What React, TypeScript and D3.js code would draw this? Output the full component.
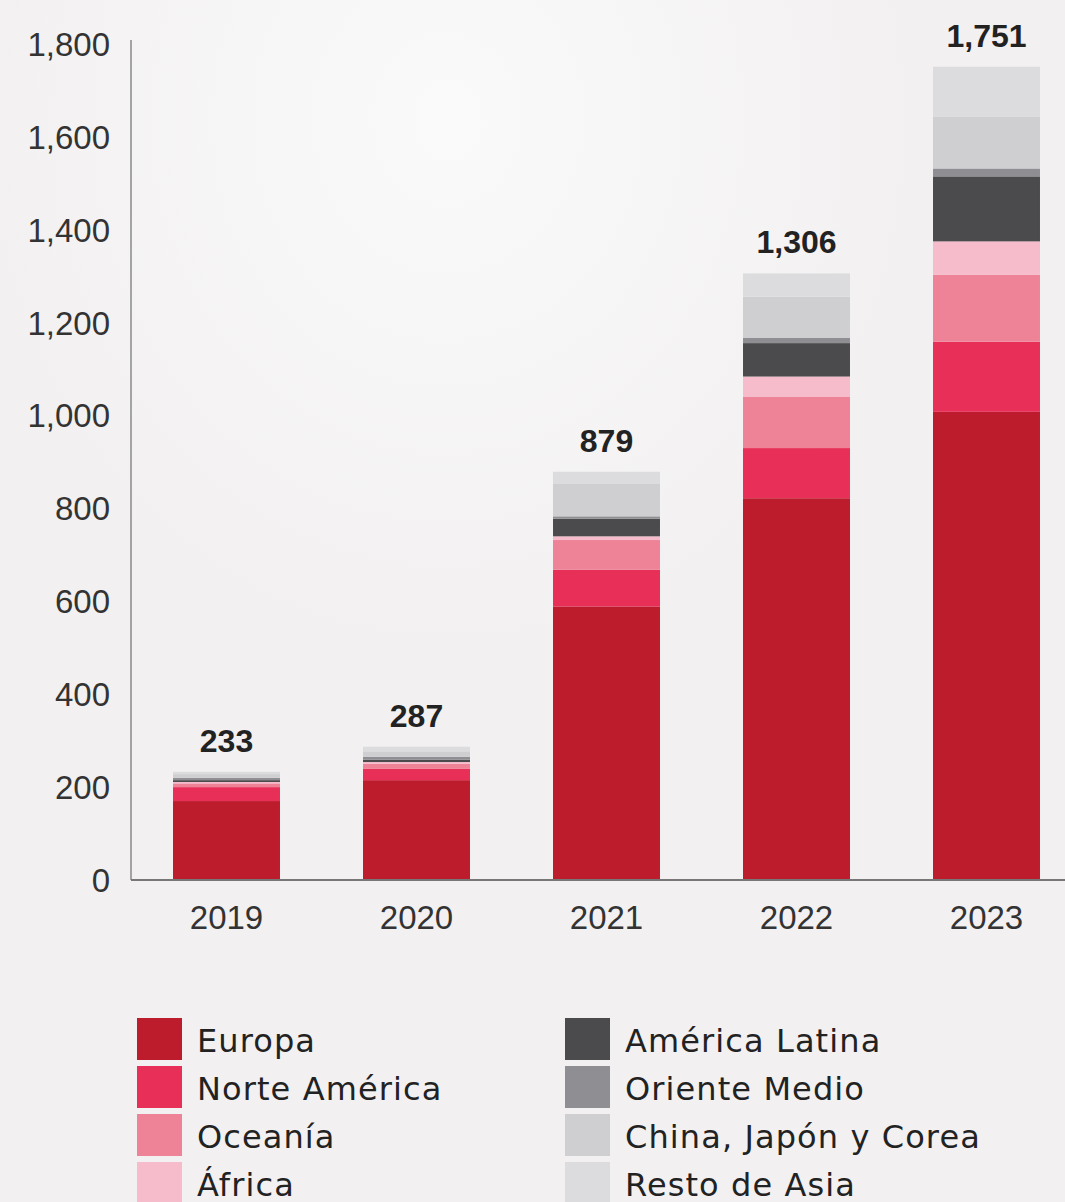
import { useEffect } from "react";
import * as d3 from "d3";

const years = ["2019", "2020", "2021", "2022", "2023"];
const totals = [233, 287, 879, 1306, 1751];

const regions = [
  "Europa",
  "Norte América",
  "Oceanía",
  "África",
  "América Latina",
  "Oriente Medio",
  "China, Japón y Corea",
  "Resto de Asia",
];

const regionColors = [
  "#bd1c2c",
  "#e72f58",
  "#ee8398",
  "#f7bccb",
  "#4b4b4e",
  "#8f8f93",
  "#cfcfd2",
  "#dcdcde",
];

// one array per region, values per year 2019..2023
const europa = [170, 215, 589, 822, 1008];
const norteAmerica = [30, 25, 79, 108, 151];
const oceania = [8, 10, 64, 111, 144];
const africa = [3, 4, 8, 43, 72];
const americaLatina = [4, 5, 38, 72, 140];
const orienteMedio = [5, 6, 5, 11, 17];
const chinaJaponCorea = [8, 12, 71, 89, 111];
const restoAsia = [5, 10, 25, 50, 108];

const yTicks = [0, 200, 400, 600, 800, 1000, 1200, 1400, 1600, 1800];

const series = [
  europa,
  norteAmerica,
  oceania,
  africa,
  americaLatina,
  orienteMedio,
  chinaJaponCorea,
  restoAsia,
];

export default function App() {
  useEffect(() => {
    document.body.style.margin = "0";
    document.body.style.background = "#f2f0f1";
  }, []);

  const width = 1065;
  const height = 1202;
  const axisX = 131;
  const baseY = 880;

  const y = d3.scaleLinear().domain([0, 1800]).range([baseY, 44]);
  const x = d3
    .scaleBand()
    .domain(years)
    .range([131.5, 1081.5])
    .paddingInner(0.437)
    .paddingOuter(0.2185);

  const table = years.map((yr, i) => {
    const row: Record<string, number | string> = { year: yr };
    regions.forEach((r, j) => (row[r] = series[j][i]));
    return row;
  });
  const stacked = d3.stack<Record<string, number | string>>().keys(regions)(
    table as any
  );

  const numFmt = d3.format(",");
  const axisFont = "'Liberation Sans', Arial, sans-serif";
  const legendFont = "'DejaVu Sans', 'Noto Sans', sans-serif";

  return (
    <div style={{ position: "absolute", left: 0, top: 0 }}>
      <svg width={width} height={height} style={{ display: "block" }}>
        <defs>
          <radialGradient id="glow" cx="0.42" cy="0.1" r="0.45">
            <stop offset="0%" stopColor="#fbfafa" />
            <stop offset="100%" stopColor="#f2f0f1" />
          </radialGradient>
        </defs>
        <rect width={width} height={height} fill="#f2f0f1" />
        <rect width={width} height={height} fill="url(#glow)" />

        {/* Y tick labels */}
        {yTicks.map((t) => (
          <text
            key={t}
            x={110}
            y={y(t)}
            dy="0.36em"
            textAnchor="end"
            fontSize={33}
            fontFamily={axisFont}
            fill="#333"
          >
            {numFmt(t)}
          </text>
        ))}

        {/* Bars */}
        {stacked.map((layer, j) => (
          <g key={regions[j]} fill={regionColors[j]}>
            {layer.map((d, i) => (
              <rect
                key={years[i]}
                x={x(years[i])}
                y={y(d[1])}
                width={x.bandwidth()}
                height={y(d[0]) - y(d[1])}
              />
            ))}
          </g>
        ))}

        {/* Axes */}
        <line
          x1={axisX}
          x2={axisX}
          y1={40}
          y2={baseY}
          stroke="#8a8a8a"
          strokeWidth={1.5}
        />
        <line
          x1={axisX}
          x2={width}
          y1={baseY}
          y2={baseY}
          stroke="#777"
          strokeWidth={2}
        />

        {/* Year labels */}
        {years.map((yr) => (
          <text
            key={yr}
            x={(x(yr) || 0) + x.bandwidth() / 2}
            y={929}
            textAnchor="middle"
            fontSize={33}
            fontFamily={axisFont}
            fill="#333"
          >
            {yr}
          </text>
        ))}

        {/* Totals */}
        {years.map((yr, i) => (
          <text
            key={yr}
            x={(x(yr) || 0) + x.bandwidth() / 2}
            y={y(totals[i]) - 20}
            textAnchor="middle"
            fontSize={32}
            fontWeight="bold"
            fontFamily={axisFont}
            fill="#222"
          >
            {numFmt(totals[i])}
          </text>
        ))}

        {/* Legend */}
        {regions.map((r, j) => {
          const col = Math.floor(j / 4);
          const row = j % 4;
          const lx = col === 0 ? 137 : 565;
          const ly = 1018 + row * 48;
          return (
            <g key={r} transform={`translate(${lx}, ${ly})`}>
              <rect width={45} height={42} fill={regionColors[j]} />
              <text
                x={60}
                y={22}
                dy="0.36em"
                fontSize={32}
                letterSpacing={1.1}
                fontFamily={legendFont}
                fill="#222"
              >
                {r}
              </text>
            </g>
          );
        })}
      </svg>
    </div>
  );
}
